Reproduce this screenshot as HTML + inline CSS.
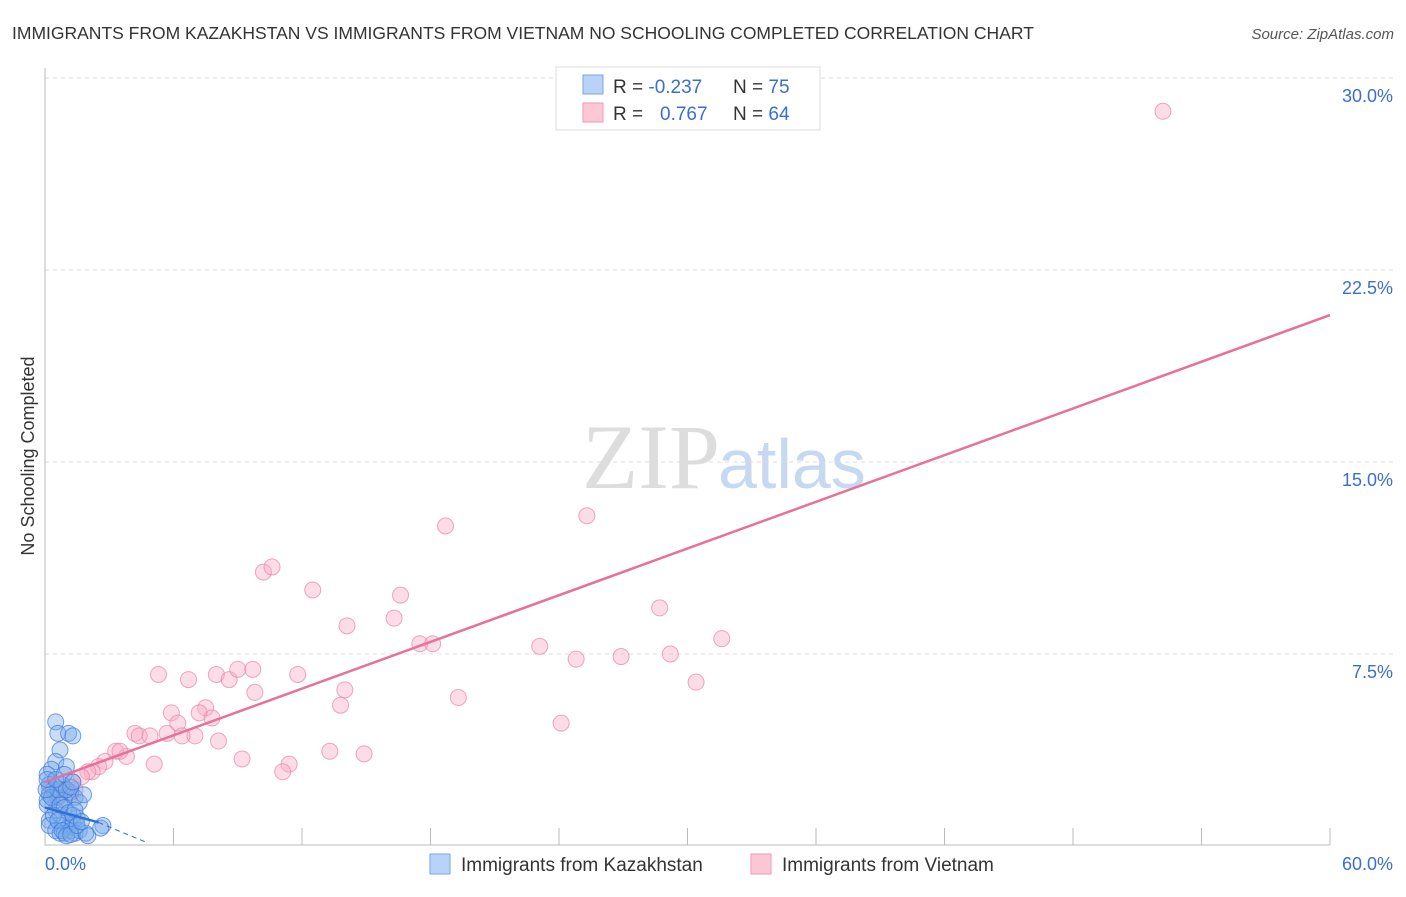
<!DOCTYPE html>
<html><head><meta charset="utf-8"><style>
body{margin:0;background:#fff;font-family:"Liberation Sans",sans-serif}
</style></head><body>
<svg id="c" width="1406" height="892" xmlns="http://www.w3.org/2000/svg">
<text x="12" y="39" font-size="17.5" fill="#333">IMMIGRANTS FROM KAZAKHSTAN VS IMMIGRANTS FROM VIETNAM NO SCHOOLING COMPLETED CORRELATION CHART</text>
<text x="1394" y="39" font-size="15" fill="#555" font-style="italic" text-anchor="end">Source: ZipAtlas.com</text>
<text x="720" y="488" font-size="92" fill="#ddd" text-anchor="end" font-family="Liberation Serif,serif">ZIP</text>
<text x="718" y="488" font-size="70" fill="#c7d9f0">atlas</text>
<text transform="translate(34,456) rotate(-90)" font-size="18" fill="#333" text-anchor="middle">No Schooling Completed</text>
<g id="grid"></g><g id="pts"></g><g id="lines"></g>
<g>
<rect x="556" y="67" width="264" height="63" fill="#fff" stroke="#ddd"/>
<rect x="583" y="75" width="20" height="19" fill="#b8d3f5" stroke="#7aa6e0"/>
<rect x="583" y="103" width="20" height="19" fill="#fcc8d6" stroke="#ef9ab2"/>
<text x="613" y="93" font-size="19" fill="#333">R = <tspan fill="#3a6fd0">-0.237</tspan></text>
<text x="733" y="93" font-size="19" fill="#333">N = <tspan fill="#3a6fd0">75</tspan></text>
<text x="613" y="120" font-size="19" fill="#333">R = <tspan x="660" fill="#3a6fd0">0.767</tspan></text>
<text x="733" y="120" font-size="19" fill="#333">N = <tspan fill="#3a6fd0">64</tspan></text>
</g>
<g>
<rect x="430" y="854" width="20" height="20" fill="#b8d3f5" stroke="#7aa6e0"/>
<text x="461" y="871" font-size="19" fill="#333">Immigrants from Kazakhstan</text>
<rect x="751" y="854" width="20" height="20" fill="#fcc8d6" stroke="#ef9ab2"/>
<text x="782" y="871" font-size="19" fill="#333">Immigrants from Vietnam</text>
</g>
</svg>
<script>
const yTicks=[7.5,15,22.5,30];
const yTickLabels=["7.5%","15.0%","22.5%","30.0%"];
const xEndLabels=["0.0%","60.0%"];
const vnX=[52.2,25.3,18.7,10.2,10.6,12.5,16.6,14.1,16.3,28.7,31.6,23.1,17.5,18.1,24.8,26.9,29.2,30.4,5.3,6.7,8.0,8.6,9.0,9.7,11.8,9.8,14.0,19.3,13.8,24.1,5.9,7.5,6.2,7.2,7.8,4.2,4.4,4.9,5.7,7.0,6.4,8.1,13.3,14.9,9.2,11.4,11.1,5.1,3.8,3.3,3.5,2.8,2.5,2.2,2.0,1.7,1.3,0.9,0.7,0.5,0.2,1.2,0.8,1.4];
const vnY=[28.7,12.9,12.5,10.7,10.9,10.0,9.8,8.6,8.9,9.3,8.1,7.8,7.9,7.9,7.3,7.4,7.5,6.4,6.7,6.5,6.7,6.5,6.9,6.9,6.7,6.0,6.1,5.8,5.5,4.8,5.2,5.4,4.8,5.2,5.0,4.4,4.3,4.3,4.4,4.3,4.3,4.1,3.7,3.6,3.4,3.2,2.9,3.2,3.5,3.7,3.7,3.3,3.1,2.9,2.9,2.7,2.5,2.2,2.0,1.9,2.2,2.0,2.4,2.2];
const kzX=[0.5,0.6,1.1,1.3,0.7,0.5,0.3,1.0,0.1,0.2,0.4,0.2,0.6,0.9,1.2,1.4,1.6,1.8,0.1,0.5,0.7,0.2,0.8,1.1,1.3,1.5,0.2,0.5,0.7,0.9,1.2,1.4,1.6,1.9,2.0,2.7,2.6,0.1,0.3,0.6,0.8,1.0,1.2,0.05,0.1,0.5,0.7,0.9,1.1,1.3,1.4,0.4,0.6,0.8,1.0,1.2,1.5,1.7,0.9,1.3];
const kzY=[4.85,4.4,4.4,4.3,3.75,3.3,3.0,3.1,2.8,2.4,2.2,2.0,1.9,1.8,2.1,1.9,1.7,2.0,1.6,1.4,1.2,1.0,0.8,0.75,0.95,1.1,0.8,0.6,0.5,0.5,0.6,0.5,0.6,0.5,0.4,0.8,0.7,1.8,1.9,2.2,2.4,2.2,2.3,2.2,2.6,2.6,1.6,1.5,1.3,1.2,1.4,1.2,1.0,0.6,0.4,0.45,0.8,0.95,2.8,2.5];
const vnTrend=[[0,2.5],[60,20.74]];
const kzTrend=[[0,1.5],[2.5,0.92]];
const kzTrendDash=[[2.5,0.92],[4.8,0.12]];
const NS="http://www.w3.org/2000/svg";
const sx=v=>45+v/60*1285, sy=v=>846-v/7.5*192;
function mk(t,a,p){const e=document.createElementNS(NS,t);for(const k in a)e.setAttribute(k,a[k]);p.appendChild(e);return e;}
const g=document.getElementById('grid');
yTicks.forEach((t,i)=>{
 const l=mk('line',{x1:45,x2:1393,y1:sy(t),y2:sy(t),stroke:'#ddd','stroke-dasharray':'4,4'},g);
 
 
 const tx=mk('text',{x:1393,y:sy(t)+24,'font-size':18,fill:'#3a6fd0','text-anchor':'end'},g);
 tx.textContent=yTickLabels[i];
 
 
});
const ax=mk('path',{d:'M45 68V845H1330',stroke:'#bbb',fill:'none'},g);


for(let i=1;i<=10;i++){const t=mk('line',{x1:sx(i*6),x2:sx(i*6),y1:828,y2:845,stroke:'#bbb'},g);
 
 }
[[0,'start',45],[1,'end',1393]].forEach(([i,a,x])=>{const t=mk('text',{x:x,y:870,'font-size':18,fill:'#3a6fd0','text-anchor':a},g);t.textContent=xEndLabels[i];
 
 });
const p=document.getElementById('pts');
vnX.forEach((x,i)=>{const c=mk('circle',{cx:sx(x),cy:sy(vnY[i]),r:8,fill:'rgba(248,170,195,0.4)',stroke:'rgba(232,130,165,0.7)'},p);
 
 });
kzX.forEach((x,i)=>{const c=mk('circle',{cx:sx(x),cy:sy(kzY[i]),r:8,fill:'rgba(120,170,235,0.4)',stroke:'rgba(60,120,220,0.7)'},p);
 
 });
const L=document.getElementById('lines');
const a=mk('line',{x1:sx(vnTrend[0][0]),y1:sy(vnTrend[0][1]),x2:sx(vnTrend[1][0]),y2:sy(vnTrend[1][1]),stroke:'#e8709a','stroke-width':2.5},L);


const b=mk('line',{x1:sx(kzTrend[0][0]),y1:sy(kzTrend[0][1]),x2:sx(kzTrend[1][0]),y2:sy(kzTrend[1][1]),stroke:'#2f6fd6','stroke-width':2.5},L);


const d=mk('line',{x1:sx(kzTrendDash[0][0]),y1:sy(kzTrendDash[0][1]),x2:sx(kzTrendDash[1][0]),y2:sy(kzTrendDash[1][1]),stroke:'#2f6fd6','stroke-width':1,'stroke-dasharray':'5,4'},L);


</script>
</body></html>
